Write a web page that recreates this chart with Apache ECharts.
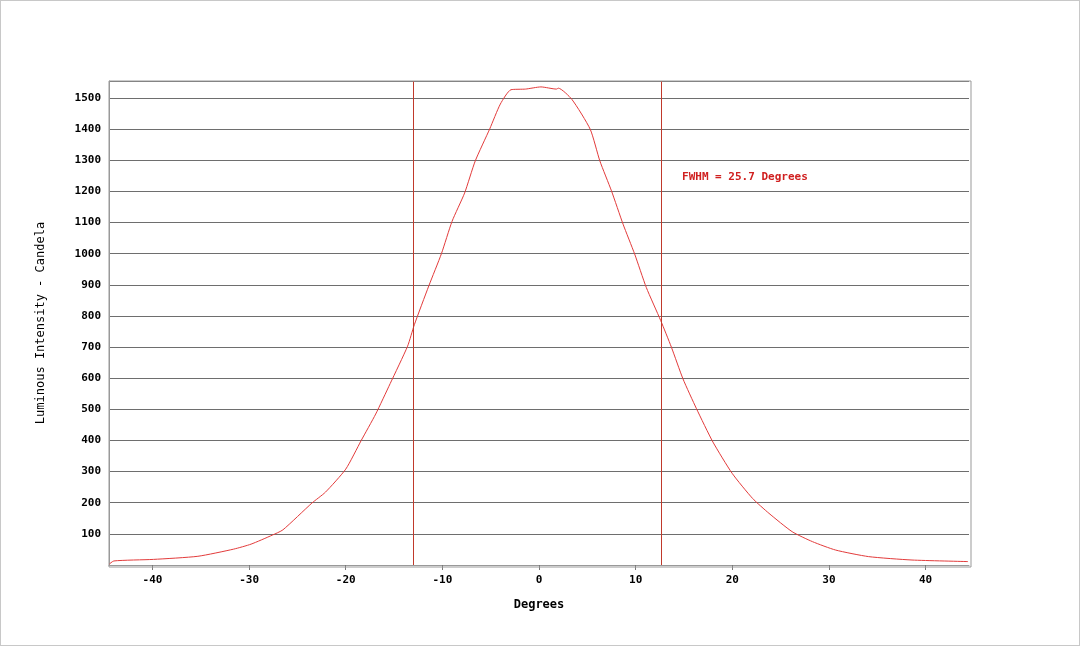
<!DOCTYPE html>
<html><head><meta charset="utf-8">
<script src="https://cdn.jsdelivr.net/npm/echarts@6/dist/echarts.min.js"></script>
<style>html,body{margin:0;padding:0;background:#fff}#c{width:1080px;height:646px;box-sizing:border-box;border:1px solid #c8c8c8}</style>
</head><body><div id="c"></div>
<script>
const degrees = [-44.5,-44.0,-39.9,-35.3,-31.6,-29.8,-27.6,-26.5,-23.5,-22.1,-20.0,-18.4,-16.9,-15.4,-13.6,-12.9,-11.4,-10.1,-9.0,-7.7,-6.6,-5.1,-4.0,-2.9,-1.4,0.2,1.8,2.0,3.4,5.3,6.3,7.5,8.7,9.9,11.1,12.6,13.7,14.9,16.3,18.0,20.0,22.1,23.8,26.2,28.3,30.7,34.1,38.6,44.4];
const candela = [2,13,18,28,51,67,96,113,199,234,308,400,485,583,703,772,897,1000,1104,1195,1298,1401,1481,1527,1529,1536,1529,1532,1496,1400,1298,1202,1095,999,892,785,700,598,502,395,294,214,166,107,75,48,27,16,11];
const fwhmLines = [-13.0, 12.7];
const annotation = {x: 14.8, y: 1247, text: 'FWHM = 25.7 Degrees'};
const xName = 'Degrees', yName = 'Luminous Intensity - Candela';

const font = 'DejaVu Sans Mono';
const chart = echarts.init(document.getElementById('c'));
chart.setOption({
  animation:false,
  grid:{left:108,right:110,top:80,bottom:80},
  xAxis:{type:'value',min:-44.5,max:44.5,interval:10,
    name:xName,nameLocation:'middle',nameGap:34,
    nameTextStyle:{fontFamily:font,fontSize:12,color:'#000',fontWeight:'bold'},
    axisLine:{show:true,onZero:false,lineStyle:{color:'#999'}},
    axisTick:{show:true,length:5,lineStyle:{color:'#777'},customValues:[-40,-30,-20,-10,0,10,20,30,40]},
    axisLabel:{fontFamily:font,fontSize:11,fontWeight:'bold',color:'#000',margin:10,customValues:[-40,-30,-20,-10,0,10,20,30,40]},
    splitLine:{show:false}},
  yAxis:{type:'value',min:0,max:1555,interval:100,
    name:yName,nameLocation:'middle',nameGap:62,
    nameTextStyle:{fontFamily:font,fontSize:12,color:'#000'},
    axisLine:{show:true,onZero:false,lineStyle:{color:'#999'}},
    axisTick:{show:false},
    axisLabel:{fontFamily:font,fontSize:11,fontWeight:'bold',color:'#000',
      formatter:v=> (v>0 && v%100===0 && v<=1500) ? String(v) : ''},
    splitLine:{show:true,lineStyle:{color:'#6e6e6e',width:1}}},
  graphic:[{type:'rect',shape:{x:108,y:80,width:862,height:486},style:{fill:'none',stroke:'#999',lineWidth:1},silent:true,z:10}],
  series:[{type:'line',data:degrees.map((d,i)=>[d,candela[i]]),smooth:0.2,symbol:'none',
    lineStyle:{color:'#e23b3b',width:1},
    markLine:{silent:true,symbol:'none',label:{show:false},z:5,
      data:fwhmLines.map(v=>({xAxis:v,lineStyle:{color:'#c0392b',width:1,type:'solid'}}))},
    markPoint:{symbol:'circle',symbolSize:0,
      data:[{coord:[annotation.x,annotation.y],value:annotation.text}],
      label:{show:true,position:'right',distance:0,formatter:annotation.text,fontFamily:font,fontSize:11,fontWeight:'bold',color:'#d02020'}}
  }]
});
</script></body></html>
